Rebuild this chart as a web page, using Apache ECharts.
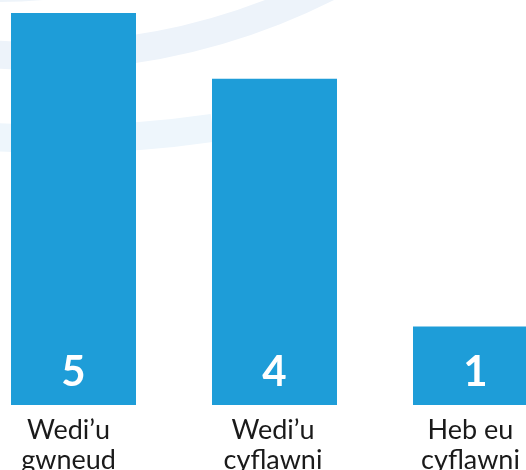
<!DOCTYPE html>
<html>
<head>
<meta charset="utf-8">
<script src="https://cdn.jsdelivr.net/npm/echarts@6/dist/echarts.min.js"></script>
<style>
html,body{margin:0;padding:0;background:#fff;}
#chart{width:526px;height:470px;}
</style>
</head>
<body>
<div id="chart"></div>
<script>
// Data
const categories = ["Wedi\u2019u\ngwneud", "Wedi\u2019u\ncyflawni", "Heb eu\ncyflawni"];
const valueLabels = [5, 4, 1];           // numbers printed on the bars
const barHeights = [5, 4.16, 1];         // bar lengths

const labelShift = [10, 3, 10];          // small left nudges of the category labels

const chart = echarts.init(document.getElementById('chart'), null, {renderer: 'canvas'});
chart.setOption({
  animation: false,
  backgroundColor: '#ffffff',
  graphic: [
    {type: 'circle', z: -10, silent: true,
     shape: {cx: 40, cy: -582, r: 638},
     style: {fill: 'none', stroke: '#edf3fa', lineWidth: 28}},
    {type: 'arc', z: -10, silent: true,
     shape: {cx: 60, cy: -912, r: 1051, startAngle: 1.425, endAngle: 1.75, clockwise: true},
     style: {fill: 'none', stroke: '#eef6fc', lineWidth: 28}},
    {type: 'circle', z: -10, silent: true,
     shape: {cx: 0, cy: -461, r: 460},
     style: {fill: 'none', stroke: '#eef4fa', lineWidth: 6}}
  ],
  grid: {left: -27, right: -50, top: 13, bottom: 65, containLabel: false, outerBoundsMode: 'none'},
  xAxis: {
    type: 'category',
    data: categories.map((c, i) => ({value: c, textStyle: {padding: [0, labelShift[i], 0, 0]}})),
    axisLine: {show: false},
    axisTick: {show: false},
    axisLabel: {
      interval: 0,
      margin: 10,
      color: '#1a1a1a',
      fontFamily: 'Lato',
      fontSize: 27,
      lineHeight: 30
    }
  },
  yAxis: {type: 'value', min: 0, max: 5, show: false, splitLine: {show: false}},
  series: [{
    type: 'bar',
    barWidth: 125,
    data: barHeights,
    itemStyle: {color: '#1e9dd8'},
    label: {
      show: true,
      position: 'insideBottom',
      distance: 12,
      color: '#ffffff',
      fontFamily: 'Lato',
      fontWeight: 'bold',
      fontSize: 42,
      formatter: p => String(valueLabels[p.dataIndex])
    }
  }]
});
</script>
</body>
</html>
